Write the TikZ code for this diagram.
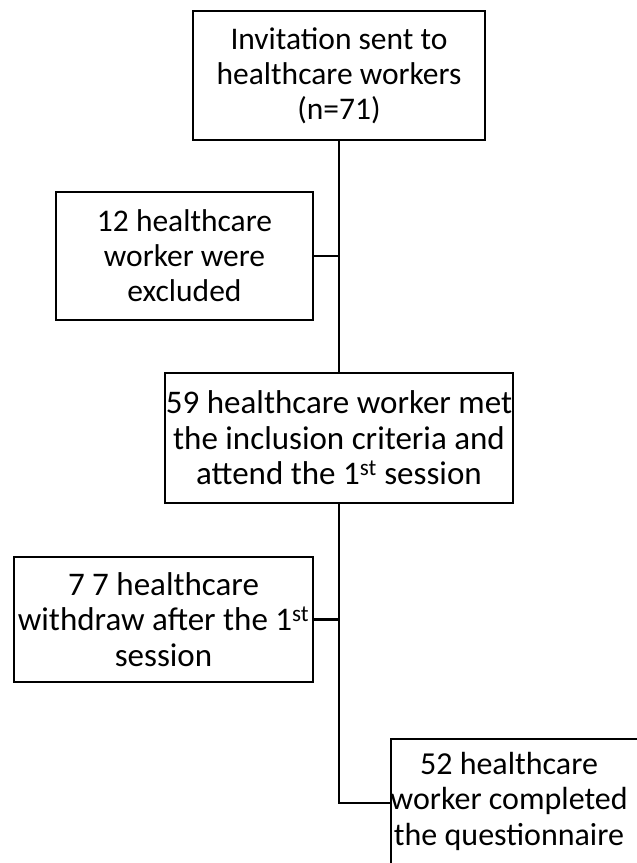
\documentclass[tikz,border=0pt]{standalone}
\usepackage{fontspec}
\setmainfont{Carlito}
\usetikzlibrary{positioning}

\begin{document}
\begin{tikzpicture}[x=1pt,y=-1pt,
  box/.style={draw,line width=2.8pt,inner sep=0pt,align=center},
  boxtext/.style={align=center,inner sep=0pt,font=\fontsize{31.5}{35}\selectfont},
  widetext/.style={boxtext,font=\fontsize{33}{35.5}\selectfont},
  link/.style={line width=2.6pt}]
  \useasboundingbox (0,0) rectangle (637,863);
  \clip (0,0) rectangle (637,863);

  % boxes
  \node[box,boxtext,minimum width=292pt,minimum height=129pt] (invite) at (339,75.5)
    {Invitation sent to\\healthcare workers\\(n=71)};
  \node[box,boxtext,minimum width=257pt,minimum height=128pt] (excluded) at (184.5,256)
    {12 healthcare\\worker were\\excluded};
  \node[box,widetext,minimum width=348pt,minimum height=130pt] (met) at (339,438)
    {59 healthcare worker met\\the inclusion criteria and\\attend the 1\textsuperscript{st} session};
  \node[box,widetext,minimum width=299pt,minimum height=125pt] (withdraw) at (163.5,619.5)
    {7 7 healthcare\\withdraw after the 1\textsuperscript{st}\\session};
  \node[box,minimum width=270pt,minimum height=128pt] (completed) at (526,803) {};
  \node[boxtext,font=\fontsize{32}{35.5}\selectfont] (completedtext) at (509,801)
    {52 healthcare\\worker completed\\the questionnaire};

  % connectors
  \draw[link] (invite.south) -- (met.north);
  \draw[link] (excluded.east) -- (excluded.east -| invite.south);
  \draw[link] (met.south) |- (completed.west);
  \draw[link] (withdraw.east) -- (withdraw.east -| met.south);
\end{tikzpicture}
\end{document}
